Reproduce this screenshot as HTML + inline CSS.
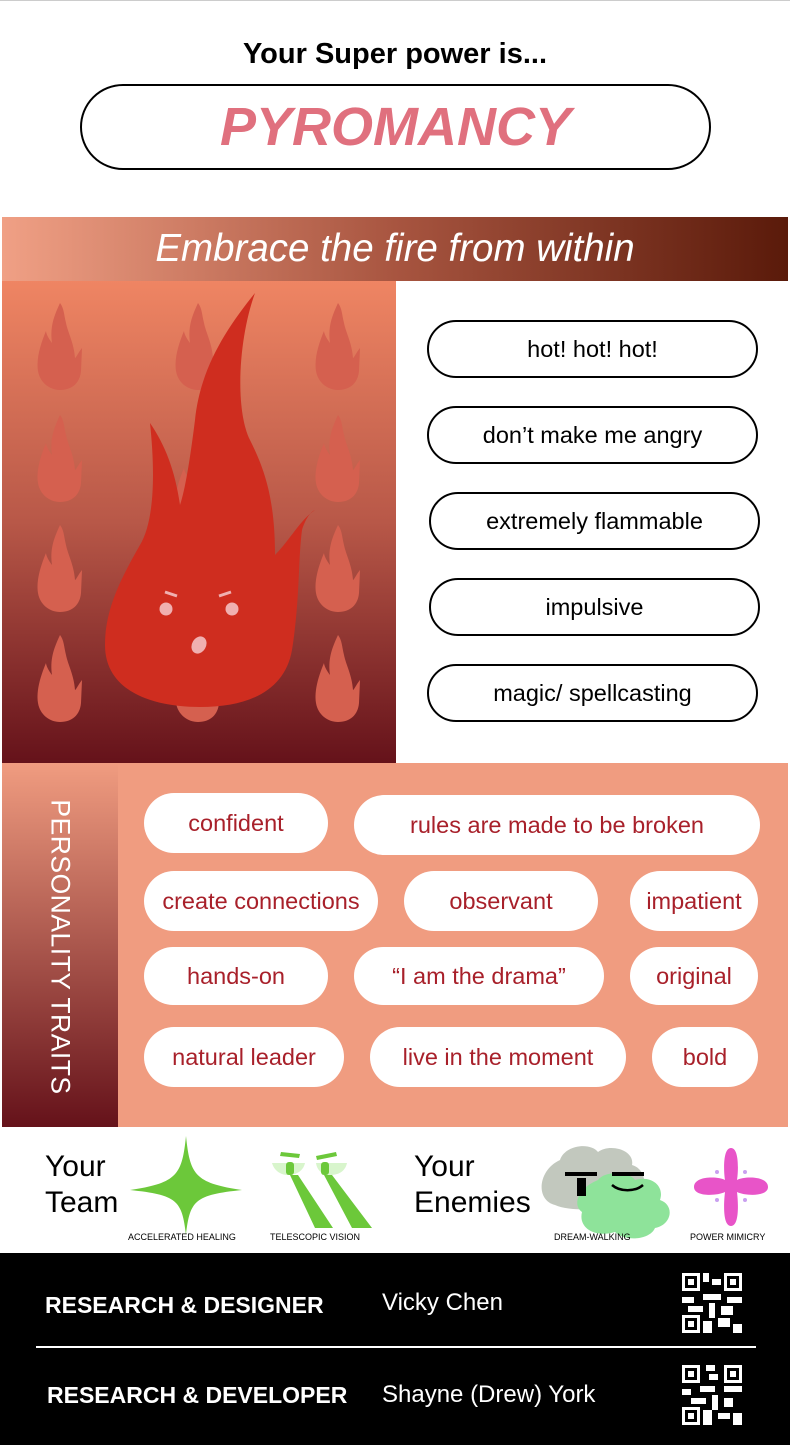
<!DOCTYPE html>
<html><head><meta charset="utf-8"><style>
*{margin:0;padding:0;box-sizing:border-box}
body{width:790px;height:1448px;background:#fff;font-family:"Liberation Sans",sans-serif;position:relative;overflow:hidden}
.a{position:absolute}
.pill{position:absolute;border:2px solid #000;border-radius:30px;display:flex;align-items:center;justify-content:center;font-size:23.5px;color:#000;background:#fff}
.t{position:absolute;background:#fff;border-radius:30px;display:flex;align-items:center;justify-content:center;font-size:23.5px;color:#a8202a}
.ft{position:absolute;color:#fff;font-size:24px}
.fb{position:absolute;color:#fff;font-size:23px;font-weight:bold}
</style></head><body>
<div class="a" style="left:0;top:0;width:790px;height:1px;background:#ccc"></div>
<div class="a" style="left:0;top:38px;width:790px;text-align:center;font-size:29px;font-weight:bold;color:#000">Your Super power is...</div>
<div class="a" style="left:80px;top:84px;width:631px;height:86px;border:2px solid #000;border-radius:43px;display:flex;align-items:center;justify-content:center;font-size:54px;font-weight:bold;font-style:italic;color:#e0707e">PYROMANCY</div>
<div class="a" style="left:2px;top:217px;width:786px;height:64px;background:linear-gradient(90deg,#f0a085,#a85540 50%,#5a1a0a);display:flex;align-items:center;justify-content:center;font-size:38.5px;font-style:italic;color:#fff">Embrace the fire from within</div>
<div class="a" style="left:2px;top:281px;width:394px;height:482px;background:linear-gradient(#ef8563,#b85848 50%,#65121a)"></div>
<svg class="a" style="left:0;top:0" width="790" height="1448" viewBox="0 0 790 1448">
<defs><path id="sf" d="M22,0 C15,15 12,25 14,40 C10,35 8,30 8,28 C3,40 -2,55 0,68 C2,80 12,87 22,87 C34,87 42,80 43,68 L44,45 C40,50 38,55 37,55 C36,40 30,30 28,20 C26,12 26,5 22,0Z" fill="#d5604f"/></defs>
<g>
<use href="#sf" x="38" y="303"/><use href="#sf" x="176" y="303"/><use href="#sf" x="316" y="303"/>
<use href="#sf" x="38" y="415"/><use href="#sf" x="176" y="440"/><use href="#sf" x="316" y="415"/>
<use href="#sf" x="38" y="525"/><use href="#sf" x="316" y="525"/>
<use href="#sf" x="38" y="635"/><use href="#sf" x="176" y="635"/><use href="#sf" x="316" y="635"/>
</g>
<path d="M255,293 C225,330 200,370 195,420 C190,460 185,490 180,505 C175,470 165,445 150,423 C155,470 155,520 140,545 C120,580 105,610 105,645 C105,690 150,707 200,707 C250,707 285,690 292,650 C300,600 298,560 302,530 C305,520 310,512 315,510 C300,520 290,540 275,555 C275,500 265,470 250,440 C235,410 238,340 255,293Z" fill="#cf2d1f"/>
<circle cx="166" cy="609" r="6.5" fill="#f0b0b0"/><circle cx="232" cy="609" r="6.5" fill="#f0b0b0"/>
<line x1="165" y1="592" x2="177" y2="596" stroke="#f0b0b0" stroke-width="3"/><line x1="219" y1="596" x2="231" y2="592" stroke="#f0b0b0" stroke-width="3"/>
<ellipse cx="199" cy="645" rx="7" ry="9" transform="rotate(30 199 645)" fill="#f0b0b0"/>
<path d="M186,1136 C190,1175 195,1183 242,1190 C195,1195 190,1200 186,1235 C182,1200 177,1195 130,1190 C177,1183 182,1175 186,1136Z" fill="#6cc83a"/>
<path d="M281,1152 L300,1154 L299,1158 L280,1156Z M316,1156 L336,1152 L337,1156 L317,1160Z" fill="#6cc83a"/>
<path d="M272,1163 L305,1163 C303,1172 295,1175 288,1175 C280,1175 274,1170 272,1163Z M316,1163 L347,1163 C345,1172 338,1175 330,1175 C322,1175 317,1170 316,1163Z" fill="#d8f5cc"/>
<rect x="286" y="1162" width="8" height="13" rx="3" fill="#6cc83a"/><rect x="321" y="1162" width="8" height="13" rx="3" fill="#6cc83a"/>
<path d="M290,1175 L298,1175 L333,1228 L315,1228Z M324,1175 L332,1175 L372,1228 L352,1228Z" fill="#6cc83a"/>
<path d="M560,1160 C565,1145 590,1142 598,1152 C610,1143 635,1150 632,1165 C650,1170 648,1200 630,1205 C610,1210 570,1212 555,1205 C535,1200 538,1170 560,1160Z" fill="#c2c8be"/>
<path d="M598,1180 C605,1170 630,1172 635,1180 C650,1175 665,1185 660,1200 C675,1205 672,1225 655,1228 C650,1240 625,1242 615,1232 C595,1238 578,1228 582,1212 C572,1205 578,1188 598,1180Z" fill="#8ee39a"/>
<rect x="565" y="1172" width="32" height="4" fill="#000"/><rect x="612" y="1172" width="32" height="4" fill="#000"/>
<rect x="577" y="1178" width="9" height="18" fill="#000"/>
<path d="M612,1185 C620,1192 635,1192 643,1185" stroke="#000" stroke-width="2.5" fill="none"/>
<path d="M731,1148 C740,1148 738,1175 737,1180 C745,1176 768,1176 768,1187 C768,1197 745,1196 737,1192 C738,1200 740,1226 731,1226 C722,1226 724,1200 725,1192 C717,1196 694,1197 694,1187 C694,1176 717,1176 725,1180 C724,1175 722,1148 731,1148Z" fill="#e854c8"/>
<g fill="#c9a0f0"><circle cx="717" cy="1172" r="2"/><circle cx="745" cy="1172" r="2"/><circle cx="717" cy="1200" r="2"/><circle cx="745" cy="1200" r="2"/></g>
</svg>
<div class="pill" style="left:427px;top:320px;width:331px;height:58px">hot! hot! hot!</div>
<div class="pill" style="left:427px;top:406px;width:331px;height:58px">don’t make me angry</div>
<div class="pill" style="left:429px;top:492px;width:331px;height:58px">extremely flammable</div>
<div class="pill" style="left:429px;top:578px;width:331px;height:58px">impulsive</div>
<div class="pill" style="left:427px;top:664px;width:331px;height:58px">magic/ spellcasting</div>
<div class="a" style="left:2px;top:763px;width:786px;height:364px;background:#f09c80"></div>
<div class="a" style="left:2px;top:763px;width:116px;height:364px;background:linear-gradient(#f09c80,#65121a)"></div>
<div class="a" style="left:60px;top:947px;width:0;height:0"><div style="position:absolute;transform:translate(-50%,-50%) rotate(90deg);white-space:nowrap;color:#fff;font-size:26.5px;letter-spacing:0.5px">PERSONALITY TRAITS</div></div>
<div class="t" style="left:144px;top:793px;width:184px;height:60px">confident</div>
<div class="t" style="left:354px;top:795px;width:406px;height:60px">rules are made to be broken</div>
<div class="t" style="left:144px;top:871px;width:234px;height:60px">create connections</div>
<div class="t" style="left:404px;top:871px;width:194px;height:60px">observant</div>
<div class="t" style="left:630px;top:871px;width:128px;height:60px">impatient</div>
<div class="t" style="left:144px;top:947px;width:184px;height:58px">hands-on</div>
<div class="t" style="left:354px;top:947px;width:250px;height:58px">“I am the drama”</div>
<div class="t" style="left:630px;top:947px;width:128px;height:58px">original</div>
<div class="t" style="left:144px;top:1027px;width:200px;height:60px">natural leader</div>
<div class="t" style="left:370px;top:1027px;width:256px;height:60px">live in the moment</div>
<div class="t" style="left:652px;top:1027px;width:106px;height:60px">bold</div>
<div class="a" style="left:45px;top:1149px;font-size:30px;line-height:36px;color:#000">Your<br>Team</div>
<div class="a" style="left:414px;top:1149px;font-size:30px;line-height:36px;color:#000">Your<br>Enemies</div>
<div class="a" style="left:128px;top:1232px;font-size:9px">ACCELERATED HEALING</div>
<div class="a" style="left:270px;top:1232px;font-size:9px">TELESCOPIC VISION</div>
<div class="a" style="left:554px;top:1232px;font-size:9px">DREAM-WALKING</div>
<div class="a" style="left:690px;top:1232px;font-size:9px">POWER MIMICRY</div>
<div class="a" style="left:0;top:1253px;width:790px;height:192px;background:#000"></div>
<div class="fb" style="left:45px;top:1292px">RESEARCH &amp; DESIGNER</div>
<div class="ft" style="left:382px;top:1289px">Vicky Chen</div>
<div class="a" style="left:36px;top:1346px;width:720px;height:2px;background:#fff"></div>
<div class="fb" style="left:47px;top:1382px">RESEARCH &amp; DEVELOPER</div>
<div class="ft" style="left:382px;top:1381px">Shayne (Drew) York</div>
<svg class="a" style="left:682px;top:1272px" width="60" height="62" viewBox="0 0 20 20"><g fill="#fff"><rect x="0" y="0" width="6" height="6"/><rect x="14" y="0" width="6" height="6"/><rect x="0" y="14" width="6" height="6"/><rect x="7" y="0" width="2" height="3"/><rect x="10" y="2" width="3" height="2"/><rect x="7" y="7" width="6" height="2"/><rect x="0" y="8" width="4" height="2"/><rect x="15" y="8" width="5" height="2"/><rect x="2" y="11" width="5" height="2"/><rect x="9" y="10" width="2" height="5"/><rect x="13" y="11" width="4" height="3"/><rect x="7" y="16" width="3" height="4"/><rect x="12" y="15" width="4" height="3"/><rect x="17" y="17" width="3" height="3"/></g><g fill="#000"><rect x="1" y="1" width="4" height="4"/><rect x="15" y="1" width="4" height="4"/><rect x="1" y="15" width="4" height="4"/></g><g fill="#fff"><rect x="2" y="2" width="2" height="2"/><rect x="16" y="2" width="2" height="2"/><rect x="2" y="16" width="2" height="2"/></g></svg>
<svg class="a" style="left:682px;top:1364px" width="60" height="62" viewBox="0 0 20 20"><g fill="#fff"><rect x="0" y="0" width="6" height="6"/><rect x="14" y="0" width="6" height="6"/><rect x="0" y="14" width="6" height="6"/><rect x="8" y="0" width="3" height="2"/><rect x="9" y="3" width="3" height="2"/><rect x="6" y="7" width="5" height="2"/><rect x="0" y="8" width="3" height="2"/><rect x="14" y="7" width="6" height="2"/><rect x="3" y="11" width="5" height="2"/><rect x="10" y="10" width="2" height="5"/><rect x="14" y="11" width="3" height="3"/><rect x="7" y="15" width="3" height="5"/><rect x="12" y="16" width="4" height="2"/><rect x="17" y="16" width="3" height="4"/></g><g fill="#000"><rect x="1" y="1" width="4" height="4"/><rect x="15" y="1" width="4" height="4"/><rect x="1" y="15" width="4" height="4"/></g><g fill="#fff"><rect x="2" y="2" width="2" height="2"/><rect x="16" y="2" width="2" height="2"/><rect x="2" y="16" width="2" height="2"/></g></svg>
</body></html>
